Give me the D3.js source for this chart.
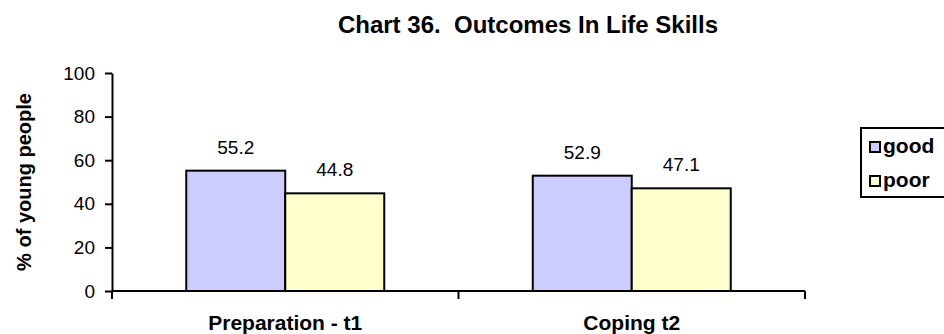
<!DOCTYPE html>
<html>
<head>
<meta charset="utf-8">
<script src="https://cdn.jsdelivr.net/npm/d3@7"></script>
<style>
  html, body { margin: 0; padding: 0; background: #fff; }
  svg { display: block; font-family: "Liberation Sans", Arial, sans-serif; }
  .title { white-space: pre; }
</style>
</head>
<body>
<svg id="chart" width="944" height="334"></svg>
<script>
// Chart data
const categories = ["Preparation - t1", "Coping t2"];
const seriesNames = ["good", "poor"];
const goodValues = [55.2, 52.9];
const poorValues = [44.8, 47.1];
const yTicks = [0, 20, 40, 60, 80, 100];
const seriesColors = ["#CCCCFF", "#FFFFCC"];

const rows = categories.map((c, i) => ({ category: c, values: [goodValues[i], poorValues[i]] }));

const svg = d3.select("#chart");
const plot = { left: 112, right: 805, top: 73, bottom: 291 };

const x0 = d3.scaleBand().domain(categories).range([plot.left, plot.right]).paddingInner(0).paddingOuter(0);
const x1 = d3.scaleBand().domain(seriesNames).range([0, x0.bandwidth()]).paddingInner(0).paddingOuter(0.75);
const y = d3.scaleLinear().domain([0, 100]).range([plot.bottom, plot.top]);
const color = d3.scaleOrdinal().domain(seriesNames).range(seriesColors);

// Title
svg.append("text")
  .attr("class", "title")
  .attr("x", 528).attr("y", 33)
  .attr("text-anchor", "middle")
  .attr("font-weight", "bold").attr("font-size", 24)
  .text("Chart 36.  Outcomes In Life Skills");

// Bars
const groups = svg.append("g").selectAll("g")
  .data(rows).join("g")
  .attr("transform", d => `translate(${x0(d.category)},0)`);

groups.selectAll("rect")
  .data(d => d.values.map((v, i) => ({ key: seriesNames[i], value: v })))
  .join("rect")
  .attr("x", d => x1(d.key))
  .attr("y", d => y(d.value))
  .attr("width", x1.bandwidth())
  .attr("height", d => y(0) - y(d.value))
  .attr("fill", d => color(d.key))
  .attr("stroke", "#000").attr("stroke-width", 2);

// Value labels
groups.selectAll("text.val")
  .data(d => d.values.map((v, i) => ({ key: seriesNames[i], value: v })))
  .join("text").attr("class", "val")
  .attr("x", d => x1(d.key) + x1.bandwidth() / 2)
  .attr("y", d => y(d.value) - 17)
  .attr("text-anchor", "middle")
  .attr("font-size", 19)
  .text(d => d.value.toFixed(1));

// Y axis
const yAxis = svg.append("g")
  .attr("transform", `translate(${plot.left},0)`)
  .call(d3.axisLeft(y).tickValues(yTicks).tickSize(7).tickSizeOuter(0).tickPadding(10));
yAxis.select(".domain").attr("stroke-width", 2);
yAxis.selectAll(".tick line").attr("stroke-width", 2);
yAxis.selectAll(".tick text").attr("font-size", 19).attr("font-family", null).attr("fill", "#000");

// X axis with ticks at category boundaries
const xAxis = svg.append("g").attr("transform", `translate(0,${plot.bottom})`);
xAxis.append("line")
  .attr("x1", plot.left).attr("x2", plot.right)
  .attr("stroke", "#000").attr("stroke-width", 2);
const boundaries = categories.map(c => x0(c)).concat([x0(categories[categories.length - 1]) + x0.bandwidth()]);
xAxis.selectAll("line.tick")
  .data(boundaries).join("line").attr("class", "tick")
  .attr("x1", d => d).attr("x2", d => d)
  .attr("y1", 0).attr("y2", 8)
  .attr("stroke", "#000").attr("stroke-width", 2);
xAxis.selectAll("text")
  .data(categories).join("text")
  .attr("x", d => x0(d) + x0.bandwidth() / 2)
  .attr("y", 39)
  .attr("text-anchor", "middle")
  .attr("font-weight", "bold").attr("font-size", 21)
  .text(d => d);

// Y axis title
svg.append("text")
  .attr("transform", `translate(31,${(plot.top + plot.bottom) / 2}) rotate(-90)`)
  .attr("text-anchor", "middle")
  .attr("font-weight", "bold").attr("font-size", 20)
  .text("% of young people");

// Legend
const legend = svg.append("g").attr("transform", "translate(861,128)");
legend.append("rect")
  .attr("x", 0).attr("y", 0).attr("width", 100).attr("height", 69)
  .attr("fill", "#fff").attr("stroke", "#000").attr("stroke-width", 2);
const items = legend.selectAll("g.item")
  .data(seriesNames).join("g").attr("class", "item")
  .attr("transform", (d, i) => `translate(9,${14 + i * 34})`);
items.append("rect")
  .attr("width", 10).attr("height", 10)
  .attr("fill", d => color(d))
  .attr("stroke", "#000").attr("stroke-width", 2);
items.append("text")
  .attr("x", 13).attr("y", 11)
  .attr("font-weight", "bold").attr("font-size", 21)
  .text(d => d);
</script>
</body>
</html>
